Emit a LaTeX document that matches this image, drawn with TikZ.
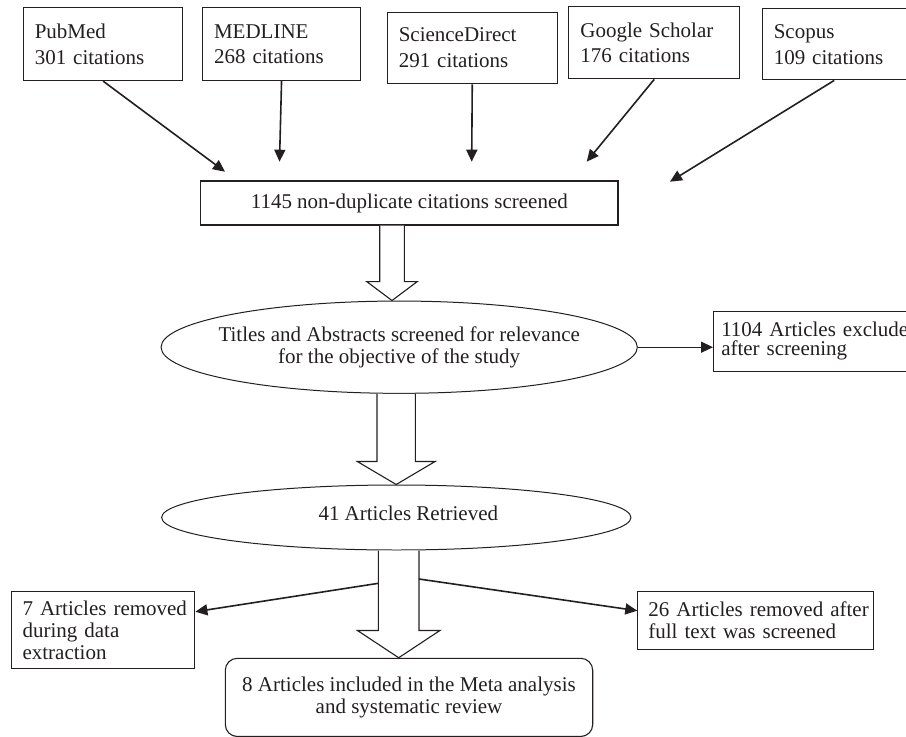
\documentclass[tikz,border=0pt]{standalone}
\usepackage{fontspec}
\setmainfont{Liberation Serif}
\usetikzlibrary{arrows.meta,shapes.geometric,calc}
\definecolor{ink}{RGB}{35,31,32}
% hollow block arrow: #1 shaft top, #2 tip, #3 half shaft width, #4 half head width, #5 head length
\newcommand\harrow[5]{%
  \draw[hollow] let \p1=(#1), \p2=(#2) in
    ({\x2-#3},\y1) -- ({\x2-#3},{\y2+#5}) -- ({\x2-#4},{\y2+#5}) -- (\x2,\y2)
    -- ({\x2+#4},{\y2+#5}) -- ({\x2+#3},{\y2+#5}) -- ({\x2+#3},\y1);}
\begin{document}
\begin{tikzpicture}[x=1pt,y=-1pt,
  every node/.style={text=ink},
  srcbox/.style={draw=ink, line width=1.1pt, rectangle, anchor=north west, align=left,
    inner xsep=11.5pt, inner ysep=0pt, font=\fontsize{21}{25.7}\selectfont},
  plainbox/.style={draw=ink, line width=1.1pt, rectangle, inner sep=0pt},
  ell/.style={draw=ink, line width=1pt, ellipse, inner sep=0pt, font=\fontsize{21}{22.6}\selectfont},
  conn/.style={draw=ink, line width=1.6pt, -{Triangle[length=12pt,width=11pt]}},
  hollow/.style={draw=ink, line width=1.1pt, fill=white, line join=miter}
]
\useasboundingbox (0,0) rectangle (906,737);
\clip (0,0) rectangle (906,737);

% source boxes
\node[srcbox, text width=136.6pt, minimum height=72.7pt] (pub) at (22.7,7.3) {PubMed\\301 citations};
\node[srcbox, text width=135pt, minimum height=72.7pt] (med) at (202,7.3) {MEDLINE\\268 citations};
\node[srcbox, text width=147pt, minimum height=71.8pt] (sci) at (386.7,11.5) {ScienceDirect\\291 citations};
\node[srcbox, text width=147.7pt, minimum height=72.3pt] (goo) at (568.3,6) {Google Scholar\\176 citations};
\node[srcbox, text width=121pt, minimum height=71pt] (sco) at (761.7,8.3) {Scopus\\109 citations};

% arrow ends
\coordinate (t1) at (225,171.7);
\coordinate (t2) at (279.5,161.7);
\coordinate (t3) at (471.7,161.7);
\coordinate (t4) at (586.7,161.7);
\coordinate (t5) at (670,181.7);
\draw[conn] (pub.south) -- (t1);
\draw[conn] (med.south) -- (t2);
\draw[conn] (sci.south) -- (t3);
\draw[conn] (goo.south) -- (t4);
\draw[conn] (sco.south) -- (t5);

% screened box
\node[plainbox, minimum width=417.3pt, minimum height=44pt, font=\fontsize{21}{25}\selectfont] (mid) at (409.3,203) {1145 non-duplicate citations screened};

% ellipse 1
\node[ell, minimum width=476.3pt, minimum height=92.3pt] (ell1) at (399.2,347.2)
  {\makebox[0pt]{\parbox[c]{440pt}{\centering\fontsize{21}{22.6}\selectfont Titles and Abstracts screened for relevance\\for the objective of the study}}};

% excluded box
\node[srcbox, inner xsep=7.7pt, text width=200pt, minimum height=60pt, font=\fontsize{21}{19.3}\selectfont] (exc) at (713,310.7) {\mbox{1104 Articles excluded}\\after screening};
\draw[conn, line width=1.4pt] (ell1.east) -- (ell1.east -| exc.west);

% ellipse 2
\node[ell, minimum width=469.3pt, minimum height=65pt] (ell2) at (396.3,517.5)
  {\makebox[0pt]{\hspace{24pt}\smash{\raisebox{-2.5pt}{41 Articles Retrieved}}}};

% side boxes
\node[srcbox, inner xsep=11pt, text width=161.3pt, minimum height=77.6pt, font=\fontsize{21}{22}\selectfont] (lbox) at (11,590.7) {\mbox{7 Articles removed}\\during data\\extraction};
\node[srcbox, inner xsep=10.5pt, text width=215pt, minimum height=58.3pt, font=\fontsize{21}{21.5}\selectfont] (rbox) at (637.3,590.7) {\mbox{26 Articles removed after}\\\mbox{full text was screened}};

% final box
\node[plainbox, rounded corners=12pt, minimum width=367.4pt, minimum height=78.2pt, align=center, font=\fontsize{21}{21.3}\selectfont] (fin) at (409,697.4) {8 Articles included in the Meta analysis\\and systematic review};

% hollow arrows
\coordinate (a1t) at ([xshift=-17.3pt]mid.south);
\coordinate (a1h) at (a1t |- ell1.north);
\harrow{a1t}{a1h}{12.3pt}{25.3pt}{19pt}
\coordinate (a2t) at ([xshift=-3pt]ell1.south);
\coordinate (a2h) at (a2t |- ell2.north);
\harrow{a2t}{a2h}{19.2pt}{38.9pt}{23pt}
\coordinate (a3t) at ([xshift=2.4pt]ell2.south);
\coordinate (a3h) at (a3t |- fin.north);
\harrow{a3t}{a3h}{20.3pt}{41.3pt}{27.3pt}

% side connectors
\coordinate (s3l) at (378.4,583.3);
\coordinate (s3r) at (419,579);
\draw[conn] (s3l) -- (lbox.east |- 0,611.7);
\draw[conn] (s3r) -- (rbox.west |- 0,610.7);
\end{tikzpicture}
\end{document}
